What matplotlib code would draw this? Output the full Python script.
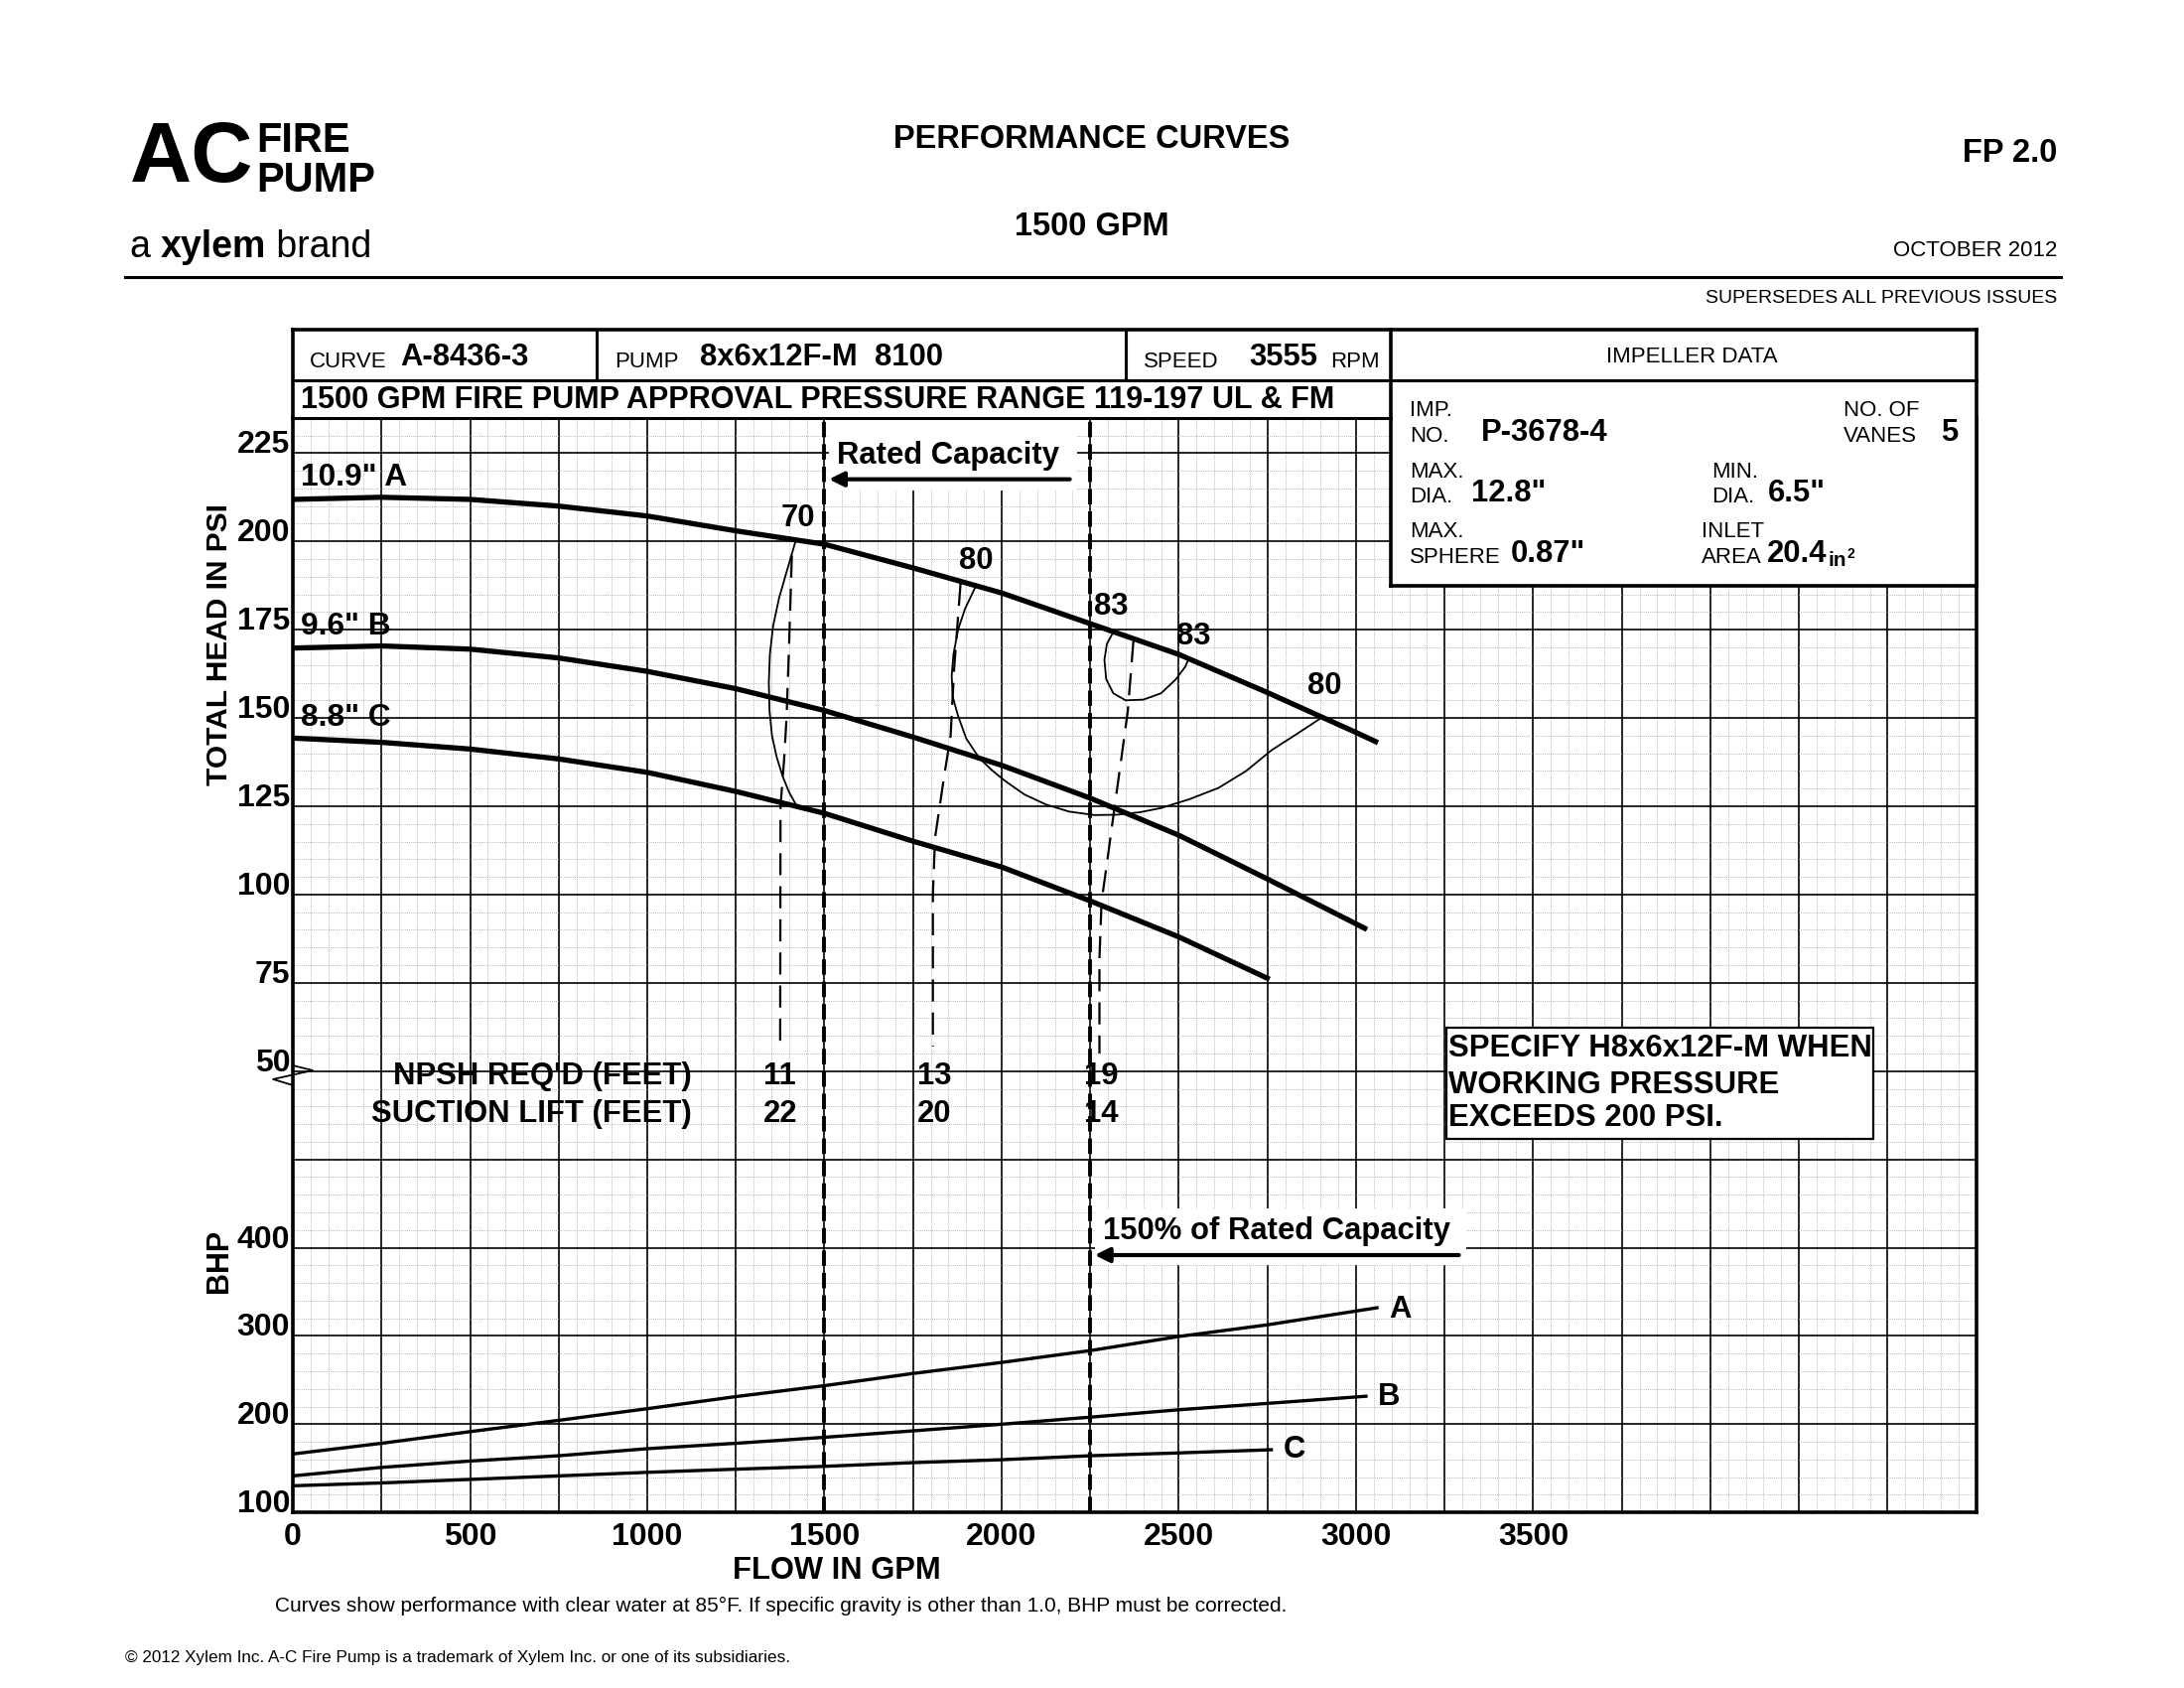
import matplotlib
matplotlib.use('Agg')
import matplotlib.pyplot as plt
import numpy as np
from matplotlib.patches import Rectangle

# ---- values ----
flow_ticks = [0, 500, 1000, 1500, 2000, 2500, 3000, 3500]
head_ticks = [50, 75, 100, 125, 150, 175, 200, 225]
bhp_ticks = [100, 200, 300, 400]

# head curves, psi vs gpm
head_a_gpm = [0, 250, 500, 750, 1000, 1250, 1500, 1750, 2000, 2250, 2500, 2750, 3000, 3062]
head_a_psi = [211.9, 212.5, 211.9, 210.0, 207.2, 203.0, 199.2, 192.5, 185.4, 176.7, 168.0, 157.2, 145.9, 143.0]
head_b_gpm = [0, 250, 500, 750, 1000, 1250, 1500, 1750, 2000, 2250, 2500, 2750, 3000, 3031]
head_b_psi = [169.8, 170.4, 169.5, 167.0, 163.2, 158.3, 152.1, 144.6, 136.6, 127.3, 116.8, 104.4, 91.7, 90.1]
head_c_gpm = [0, 250, 500, 750, 1000, 1250, 1500, 1750, 2000, 2250, 2500, 2756]
head_c_psi = [144.3, 143.1, 141.2, 138.4, 134.6, 129.2, 123.0, 115.1, 107.8, 98.2, 88.0, 76.0]
dia_labels = ['10.9" A', '9.6" B', '8.8" C']
dia_label_psi = [218, 176, 150]

# brake horsepower curves
bhp_a_gpm = [0, 250, 500, 750, 1000, 1250, 1500, 1750, 2000, 2250, 2500, 2750, 3059]
bhp_a = [166.3, 178.4, 191.6, 204.4, 217.6, 231.3, 243.7, 257.5, 270.0, 283.4, 299.4, 312.6, 331.9]
bhp_b_gpm = [0, 250, 500, 750, 1000, 1250, 1500, 1750, 2000, 2250, 2500, 2750, 3028]
bhp_b = [141.5, 151.1, 158.3, 164.3, 172.3, 178.4, 185.2, 192.5, 200.0, 208.0, 216.4, 223.6, 231.7]
bhp_c_gpm = [0, 250, 500, 750, 1000, 1250, 1500, 1750, 2000, 2250, 2500, 2761]
bhp_c = [130.3, 133.5, 137.5, 141.5, 145.5, 149.1, 152.3, 156.5, 159.8, 164.3, 167.5, 171.1]
bhp_labels = ['A', 'B', 'C']
bhp_label_gpm = [3092, 3062, 2795]
bhp_label_val = [330, 231, 171]

# efficiency contours
eff70_gpm = [1418, 1395, 1372, 1355, 1346, 1343, 1345, 1352, 1365, 1382, 1400, 1425]
eff70_psi = [199.9, 192, 184, 176, 168, 160, 152, 145, 139, 133.5, 129, 124.5]
eff80_gpm = [1927, 1897, 1877, 1864, 1859, 1862, 1877, 1900, 1937, 1975, 2012, 2065, 2125, 2190, 2262,
             2325, 2390, 2450, 2530, 2612, 2690, 2762, 2835, 2903]
eff80_psi = [187.3, 181, 175, 168, 161.9, 156, 150.6, 144.2, 138.6, 135.0, 132.0, 128.3, 125.5, 123.5,
             122.5, 122.6, 123.3, 124.5, 127.0, 130.2, 135.0, 140.9, 145.6, 150.1]
eff83_gpm = [2315, 2297, 2290, 2295, 2315, 2350, 2400, 2450, 2492, 2518, 2527]
eff83_psi = [174.3, 171, 166.5, 161, 157, 155, 155.2, 157, 161, 164.5, 166.6]
eff_labels = ['70', '80', '83', '83', '80']
eff_label_gpm = [1425, 1928, 2310, 2542, 2912]
eff_label_psi = [206.6, 194.4, 181.4, 173.1, 158.9]

# npsh lines
npsh11_gpm = [1408, 1400, 1393, 1386, 1376, 1375]
npsh11_psi = [196, 170, 150, 138, 125, 57]
npsh13_gpm = [1884, 1866, 1856, 1837, 1812, 1806, 1806]
npsh13_psi = [188, 164, 145, 133, 116, 100, 57]
npsh19_gpm = [2372, 2356, 2337, 2319, 2300, 2282, 2276, 2276]
npsh19_psi = [172, 152, 138, 125, 111, 98, 82, 55]
npsh_gpm = [1375, 1810, 2280]
npsh_reqd = ['11', '13', '19']
suction_lift = ['22', '20', '14']

rated_gpm = 1500
overload_gpm = 2250


def bhp_u(b):
    # bhp scale sits under the head scale: 400 bhp at 0, 100 bhp per 25 psi
    return (np.asarray(b, dtype=float) - 400) / 4


FONT = ['Liberation Sans', 'DejaVu Sans']
plt.rcParams['font.family'] = FONT


def fx(p):
    return p / 1566


def fy(p):
    return 1 - p / 1212


fig = plt.figure(figsize=(22, 17), dpi=100)
ax = fig.add_axes([fx(210), fy(1086), fx(1207), 786 / 1212])
ax.set_xlim(0, 4750)
ax.set_ylim(-75, 235)

# grid
xt = np.arange(0, 4751, 250)
ax.set_xticks(xt, [str(v) if v in flow_ticks else '' for v in xt])
ax.set_xticks(np.arange(0, 4751, 50), minor=True)
yt = np.arange(-75, 226, 25)
ylab = {float(h): str(h) for h in head_ticks}
ylab.update({float(bhp_u(b)): str(b) for b in bhp_ticks})
ax.set_yticks(yt, [ylab.get(float(v), '') for v in yt])
ax.set_yticks(np.arange(-75, 236, 5), minor=True)
ax.grid(which='major', color='black', lw=1.2)
ax.grid(which='minor', color='#a0a0a0', ls=(0, (1, 1.5)), lw=0.6)
ax.set_axisbelow(True)
ax.tick_params(which='both', length=0)
ax.tick_params(axis='x', pad=7)
ax.tick_params(axis='y', pad=2)
for t in ax.get_xticklabels() + ax.get_yticklabels():
    t.set_fontweight('bold')
    t.set_fontsize(23)
for t in ax.get_yticklabels():
    t.set_verticalalignment('baseline')
for s in ax.spines.values():
    s.set_linewidth(2.6)
ax.spines['top'].set_visible(False)

BOLD = dict(fontsize=22.3, fontweight='bold')

# white patches behind boxed notes
ax.add_patch(Rectangle((1512, 214.5), 700, 21, facecolor='white', edgecolor='none', zorder=1.5))
ax.add_patch(Rectangle((2262, -4.8), 1050, 16, facecolor='white', edgecolor='none', zorder=1.5))

# head curves
for g, h in [(head_a_gpm, head_a_psi), (head_b_gpm, head_b_psi), (head_c_gpm, head_c_psi)]:
    ax.plot(g, h, color='black', lw=3.8, solid_capstyle='butt', zorder=3)
for lab, h in zip(dia_labels, dia_label_psi):
    ax.text(22, h, lab, va='center', zorder=4, fontsize=22.8, fontweight='bold')

# bhp curves
for g, b in [(bhp_a_gpm, bhp_a), (bhp_b_gpm, bhp_b), (bhp_c_gpm, bhp_c)]:
    ax.plot(g, bhp_u(b), color='black', lw=2.4, zorder=3)
for lab, g, b in zip(bhp_labels, bhp_label_gpm, bhp_label_val):
    ax.text(g, bhp_u(b), lab, va='center', zorder=4, **BOLD)

# efficiency contours
for g, h in [(eff70_gpm, eff70_psi), (eff80_gpm, eff80_psi), (eff83_gpm, eff83_psi)]:
    ax.plot(g, h, color='black', lw=1.3, zorder=3)
for lab, g, h in zip(eff_labels, eff_label_gpm, eff_label_psi):
    ax.text(g, h, lab, ha='center', va='center', zorder=4, **BOLD)

# npsh lines and values
for g, h in [(npsh11_gpm, npsh11_psi), (npsh13_gpm, npsh13_psi), (npsh19_gpm, npsh19_psi)]:
    ax.plot(g, h, color='black', lw=1.6, ls=(0, (10, 5)), zorder=3)
ax.text(1126, 48.4, "NPSH REQ'D (FEET)", ha='right', va='center', zorder=4, **BOLD)
ax.text(1126, 37.8, 'SUCTION LIFT (FEET)', ha='right', va='center', zorder=4, **BOLD)
for g, a, b in zip(npsh_gpm, npsh_reqd, suction_lift):
    ax.text(g, 48.4, a, ha='center', va='center', zorder=4, **BOLD)
    ax.text(g, 37.8, b, ha='center', va='center', zorder=4, **BOLD)

# rated capacity markers
for g in [rated_gpm, overload_gpm]:
    ax.axvline(g, color='black', lw=2.8, ls=(0, (4, 1.8)), zorder=3)
ax.text(1535, 224.3, 'Rated Capacity', va='center', zorder=4, **BOLD)
ax.annotate('', xy=(rated_gpm + 5, 217.6), xytext=(2200, 217.6),
            arrowprops=dict(arrowstyle='-|>', lw=3, color='black', mutation_scale=22), zorder=4)
ax.text(2285, 4.6, '150% of Rated Capacity', va='center', zorder=4, **BOLD)
ax.annotate('', xy=(overload_gpm + 5, -2.1), xytext=(3298, -2.1),
            arrowprops=dict(arrowstyle='-|>', lw=3, color='black', mutation_scale=22), zorder=4)

# working pressure note
ax.add_patch(Rectangle((3255, 30.7), 1204, 31.5, facecolor='white', edgecolor='black', lw=1.6, zorder=4))
for txt, h in zip(['SPECIFY H8x6x12F-M WHEN', 'WORKING PRESSURE', 'EXCEEDS 200 PSI.'], [56.3, 46.0, 36.6]):
    ax.text(3262, h, txt, va='center', zorder=5, fontsize=22.4, fontweight='bold')

# break mark on the left edge
ax.plot([0, 56, -56, 0], [51.6, 50.2, 47.7, 46.0], color='black', lw=1.3, clip_on=False, zorder=5)

# axis titles
ax.text(-0.0439, 0.7926, 'TOTAL HEAD IN PSI', transform=ax.transAxes, rotation=90, fontsize=21.5,
        fontweight='bold', ha='center', va='center')
ax.text(-0.0439, 0.230, 'BHP', transform=ax.transAxes, rotation=90, fontsize=22,
        fontweight='bold', ha='center', va='center')
ax.set_xlabel('FLOW IN GPM', fontsize=22.2, fontweight='bold')
ax.xaxis.set_label_coords(0.323, -0.040)

# header block above the grid (x in gpm, y in axes fraction)
bt = ax.get_xaxis_transform()
top, mid = 1.0802, 1.0344
imp_left = 3097
imp_bot = (187.5 + 75) / 310
ax.add_patch(Rectangle((imp_left, imp_bot), 4750 - imp_left, top - imp_bot, transform=bt, facecolor='white',
                       edgecolor='none', clip_on=False, zorder=5))
frame = [([0, 4750], [top, top], 2.6), ([0, 0], [1.0, top], 2.6), ([4750, 4750], [imp_bot, top], 2.6),
         ([imp_left, imp_left], [imp_bot, top], 2.6), ([imp_left, 4750], [imp_bot, imp_bot], 2.6),
         ([0, 4750], [mid, mid], 2.2), ([0, imp_left], [1.0, 1.0], 2.2),
         ([858, 858], [mid, top], 2.2), ([2349, 2349], [mid, top], 2.2)]
for xs, ys, w in frame:
    ax.plot(xs, ys, transform=bt, color='black', lw=w, clip_on=False, solid_capstyle='projecting', zorder=6)

SMALL = dict(fontsize=16, va='center', zorder=7)
BIG = dict(fontsize=22.3, fontweight='bold', va='center', zorder=7)


def pair(x, y, small, big, gap):
    fig.text(fx(x), fy(y), small, **SMALL)
    fig.text(fx(x + gap), fy(y - 3), big, **BIG)


pair(222, 260, 'CURVE', 'A-8436-3', 65)
pair(441, 260, 'PUMP', '8x6x12F-M  8100', 61)
pair(820, 260, 'SPEED', '3555', 76)
fig.text(fx(954), fy(260), 'RPM', **SMALL)
fig.text(fx(216), fy(287), '1500 GPM FIRE PUMP APPROVAL PRESSURE RANGE 119-197 UL & FM', **dict(BIG, fontsize=22.1))
fig.text(fx(1213), fy(256), 'IMPELLER DATA', ha='center', **SMALL)

for x, y, a, b in [(1011, 295, 'IMP.', 'NO.'), (1322, 295, 'NO. OF', 'VANES'), (1011, 339, 'MAX.', 'DIA.'),
                   (1227, 339, 'MIN.', 'DIA.'), (1011, 382, 'MAX.', 'SPHERE'), (1220, 382, 'INLET', 'AREA')]:
    fig.text(fx(x), fy(y), a, **SMALL)
    fig.text(fx(x), fy(y + 18), b, **SMALL)
fig.text(fx(1062), fy(311), 'P-3678-4', **BIG)
fig.text(fx(1392), fy(311), '5', **BIG)
fig.text(fx(1055), fy(354), '12.8"', **BIG)
fig.text(fx(1268), fy(354), '6.5"', **BIG)
fig.text(fx(1083), fy(398), '0.87"', **BIG)
t1 = fig.text(fx(1267), fy(398), '20.4', **BIG)
t2 = fig.text(0, 0, 'in', fontsize=15, fontweight='bold', va='baseline', zorder=7)
fig.canvas.draw()
bb = t1.get_window_extent()
W, H = fig.bbox.width, fig.bbox.height
t2.set_position((bb.x1 / W + 0.0005, (bb.y0 + 0.12 * bb.height) / H))
bb2 = t2.get_window_extent()
fig.text(bb2.x1 / W + 0.0003, bb2.y1 / H - 0.002, '2', fontsize=10, fontweight='bold', va='center', zorder=7)

# page header
fig.text(fx(93), fy(115), 'AC', fontsize=62, fontweight='bold', va='center')
fig.text(fx(184), fy(101), 'FIRE', fontsize=30, fontweight='bold', va='center')
fig.text(fx(184), fy(130), 'PUMP', fontsize=30, fontweight='bold', va='center')
a1 = fig.text(fx(93), fy(185), 'a ', fontsize=27, va='baseline')
a2 = ax.annotate('xylem', xy=(1, 0), xycoords=a1, fontsize=27, fontweight='bold',
                 va='bottom', annotation_clip=False)
ax.annotate(' brand', xy=(1, 0), xycoords=a2, fontsize=27, va='bottom', annotation_clip=False)
fig.text(fx(783), fy(100), 'PERFORMANCE CURVES', fontsize=23.5, fontweight='bold', ha='center', va='center')
fig.text(fx(783), fy(163), '1500 GPM', fontsize=23.5, fontweight='bold', ha='center', va='center')
fig.text(fx(1475), fy(110), 'FP 2.0', fontsize=23.5, fontweight='bold', ha='right', va='center')
fig.text(fx(1475), fy(180), 'OCTOBER 2012', fontsize=16, ha='right', va='center')
fig.text(fx(1475), fy(214), 'SUPERSEDES ALL PREVIOUS ISSUES', fontsize=14, ha='right', va='center')
fig.add_artist(plt.Line2D([fx(90), fx(1478)], [fy(199), fy(199)], color='black', lw=2.2))

# footnotes
fig.text(fx(197), fy(1153), 'Curves show performance with clear water at 85\u00b0F. If specific gravity is '
         'other than 1.0, BHP must be corrected.', fontsize=15, va='center')
fig.text(fx(90), fy(1190), '\u00a9 2012 Xylem Inc. A-C Fire Pump is a trademark of Xylem Inc. or one of its '
         'subsidiaries.', fontsize=12.3, va='center')

fig.savefig('out.png', dpi=100, facecolor='white')
